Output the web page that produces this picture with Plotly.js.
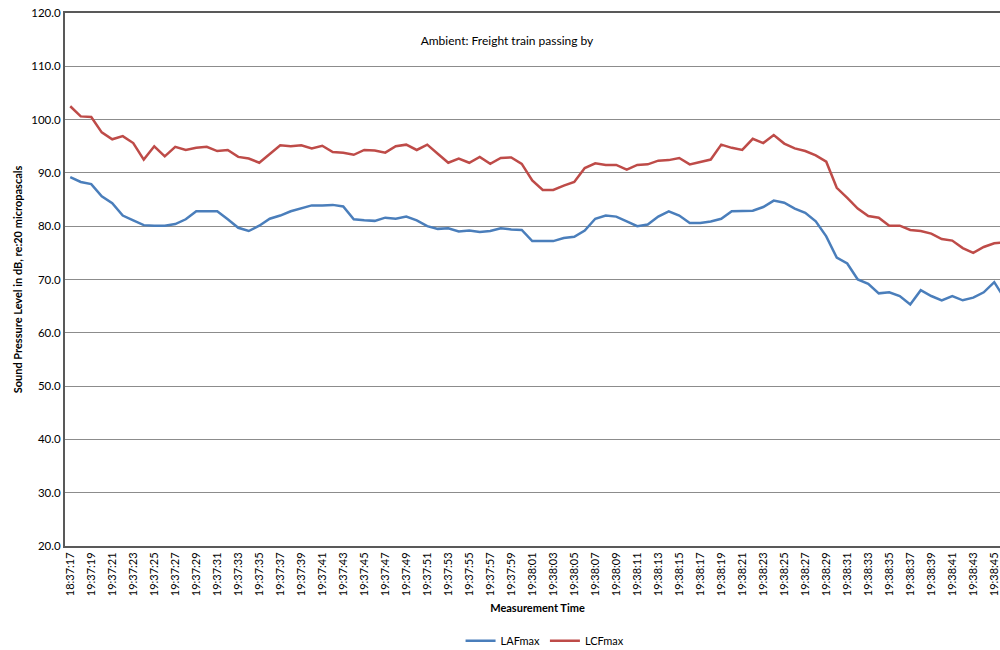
<!DOCTYPE html>
<html>
<head>
<meta charset="utf-8">
<script src="https://cdn.plot.ly/plotly-3.0.1.min.js"></script>
<style>
  html, body { margin: 0; padding: 0; overflow: hidden; background: #fff; }
  #chart { width: 1075px; height: 680px; }
</style>
</head>
<body>
<div id="chart"></div>
<script>
// Measurement times (one per second; first label as it appears in the source)
const times = [
  "18:37:17","19:37:18","19:37:19","19:37:20","19:37:21","19:37:22","19:37:23","19:37:24","19:37:25","19:37:26",
  "19:37:27","19:37:28","19:37:29","19:37:30","19:37:31","19:37:32","19:37:33","19:37:34","19:37:35","19:37:36",
  "19:37:37","19:37:38","19:37:39","19:37:40","19:37:41","19:37:42","19:37:43","19:37:44","19:37:45","19:37:46",
  "19:37:47","19:37:48","19:37:49","19:37:50","19:37:51","19:37:52","19:37:53","19:37:54","19:37:55","19:37:56",
  "19:37:57","19:37:58","19:37:59","19:38:00","19:38:01","19:38:02","19:38:03","19:38:04","19:38:05","19:38:06",
  "19:38:07","19:38:08","19:38:09","19:38:10","19:38:11","19:38:12","19:38:13","19:38:14","19:38:15","19:38:16",
  "19:38:17","19:38:18","19:38:19","19:38:20","19:38:21","19:38:22","19:38:23","19:38:24","19:38:25","19:38:26",
  "19:38:27","19:38:28","19:38:29","19:38:30","19:38:31","19:38:32","19:38:33","19:38:34","19:38:35","19:38:36",
  "19:38:37","19:38:38","19:38:39","19:38:40","19:38:41","19:38:42","19:38:43","19:38:44","19:38:45","19:38:46"
];

const lafmax = [
  89.2, 88.3, 87.9, 85.6, 84.3, 82.0, 81.1, 80.2, 80.1, 80.1,
  80.4, 81.3, 82.8, 82.8, 82.8, 81.3, 79.7, 79.1, 80.1, 81.4,
  82.0, 82.8, 83.3, 83.9, 83.9, 84.0, 83.7, 81.3, 81.1, 81.0,
  81.6, 81.4, 81.8, 81.1, 80.0, 79.5, 79.6, 79.0, 79.2, 78.9,
  79.1, 79.6, 79.4, 79.3, 77.2, 77.2, 77.2, 77.8, 78.0, 79.2,
  81.4, 82.0, 81.8, 80.9, 80.0, 80.3, 81.8, 82.8, 82.0, 80.6,
  80.6, 80.9, 81.4, 82.8, 82.8, 82.9, 83.6, 84.8, 84.4, 83.3,
  82.5, 80.9, 78.1, 74.1, 73.0, 70.0, 69.2, 67.4, 67.6, 66.9,
  65.3, 68.0, 66.9, 66.1, 66.9, 66.1, 66.6, 67.6, 69.5, 66.4
];

const lcfmax = [
  102.5, 100.6, 100.5, 97.6, 96.3, 96.9, 95.6, 92.5, 95.0, 93.1,
  94.9, 94.3, 94.7, 94.9, 94.1, 94.3, 93.0, 92.7, 91.9, 93.6,
  95.2, 95.0, 95.2, 94.6, 95.1, 93.9, 93.8, 93.4, 94.3, 94.2,
  93.8, 95.0, 95.3, 94.3, 95.3, 93.6, 91.9, 92.7, 91.9, 93.0,
  91.7, 92.8, 92.9, 91.7, 88.6, 86.8, 86.8, 87.6, 88.3, 90.9,
  91.8, 91.5, 91.5, 90.6, 91.5, 91.6, 92.3, 92.4, 92.8, 91.6,
  92.0, 92.5, 95.3, 94.7, 94.3, 96.4, 95.6, 97.1, 95.5, 94.6,
  94.1, 93.3, 92.1, 87.2, 85.3, 83.3, 81.9, 81.6, 80.1, 80.1,
  79.3, 79.1, 78.6, 77.6, 77.3, 75.9, 75.0, 76.1, 76.8, 77.0
];

const yTicks = [20, 30, 40, 50, 60, 70, 80, 90, 100, 110, 120];
const yTickText = ["20.0","30.0","40.0","50.0","60.0","70.0","80.0","90.0","100.0","110.0","120.0"];

const xTickVals = times.filter((t, i) => i % 2 === 0);

const FONT = "Lato, 'Open Sans', 'Liberation Sans', sans-serif";

const traces = [
  {
    x: times, y: lafmax, name: "LAFmax", type: "scatter", mode: "lines",
    line: { color: "#4a7ebb", width: 2.5 }
  },
  {
    x: times, y: lcfmax, name: "LCFmax", type: "scatter", mode: "lines",
    line: { color: "#be4b48", width: 2.5 }
  }
];

// plot area: x 65..1010, y 13..546 (page is 650 tall, rest is clipped)
const layout = {
  width: 1075, height: 680,
  margin: { l: 65, r: 65, t: 13, b: 134 },
  paper_bgcolor: "#ffffff", plot_bgcolor: "#ffffff",
  font: { family: FONT, size: 11, color: "#000000" },
  showlegend: true,
  title: {
    text: "Ambient: Freight train passing by",
    font: { family: FONT, size: 12, color: "#000000" },
    xref: "paper", yref: "paper",
    x: 0.4677, y: 0.9475, xanchor: "center", yanchor: "middle"
  },
  xaxis: {
    type: "category",
    range: [-0.5, 89.5],
    tickmode: "array", tickvals: xTickVals, ticktext: xTickVals,
    tickangle: -90,
    tickfont: { family: FONT, size: 11, color: "#000000" },
    showgrid: false, zeroline: false,
    showline: true, linecolor: "#595959", linewidth: 2, mirror: true,
    ticks: "", automargin: false,
    title: { text: "<b>Measurement Time</b>", font: { family: FONT, size: 11, color: "#000" }, standoff: 9 }
  },
  yaxis: {
    range: [20, 120],
    tickmode: "array", tickvals: yTicks, ticktext: yTickText,
    tickfont: { family: FONT, size: 11.5, color: "#000000" },
    showgrid: true, gridcolor: "#8c8c8c", gridwidth: 1,
    zeroline: false,
    showline: true, linecolor: "#595959", linewidth: 2, mirror: true,
    ticks: "", automargin: false,
    title: { text: "<b>Sound Pressure Level in dB, re:20 micropascals</b>", font: { family: FONT, size: 11, color: "#000" }, standoff: 6 }
  },
  legend: {
    orientation: "h",
    x: 0.508, xanchor: "center", xref: "paper",
    y: -0.178, yanchor: "middle", yref: "paper",
    font: { family: FONT, size: 11, color: "#000" },
    itemwidth: 30,
    bgcolor: "rgba(0,0,0,0)"
  }
};

Plotly.newPlot("chart", traces, layout, { displayModeBar: false, responsive: false });
</script>
</body>
</html>
